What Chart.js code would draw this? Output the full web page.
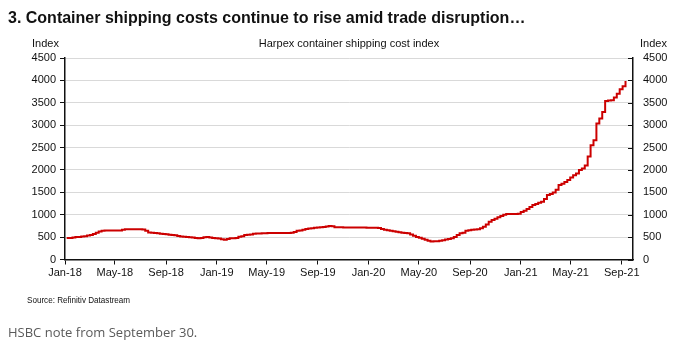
<!DOCTYPE html>
<html>
<head>
<meta charset="utf-8">
<script src="https://cdn.jsdelivr.net/npm/chart.js@4/dist/chart.umd.min.js"></script>
<style>
  html, body { margin: 0; padding: 0; background: #fff; }
  #wrap { position: relative; width: 690px; height: 345px; overflow: hidden; }
  #wrap canvas { position: absolute; left: 0; top: 0; }
  .txt { position: absolute; white-space: nowrap; font-family: "Liberation Sans", Arial, sans-serif; color: #111; }
  #title { left: 8px; top: 9px; font-size: 16px; font-weight: bold; line-height: 18px; }
  .axisName { top: 37px; font-size: 11px; line-height: 13px; }
  #source { left: 27px; top: 293px; font-size: 9px; line-height: 14px; transform: scaleX(0.9); transform-origin: 0 0; }
  #note { left: 8px; top: 324px; font-size: 13px; line-height: 16px; font-family: "Open Sans", sans-serif; color: #5a5a5a; }
</style>
</head>
<body>
<div id="wrap">
  <canvas id="harpexChart" width="690" height="345"></canvas>
  <div class="txt" id="title">3. Container shipping costs continue to rise amid trade disruption…</div>
  <div class="txt axisName" style="left:32px">Index</div>
  <div class="txt axisName" style="left:0;width:690px;text-align:center;padding-left:8px;box-sizing:border-box">Harpex container shipping cost index</div>
  <div class="txt axisName" style="left:640px">Index</div>
  <div class="txt" id="source">Source: Refinitiv Datastream</div>
  <div class="txt" id="note">HSBC note from September 30.</div>
</div>
<script>
// Harpex weekly readings, first one on the Friday below
const firstWeek = '2018-01-05';
const harpex = [
  480, 482, 490, 500, 505, 512, 520, 535, 546, 570,
  600, 625, 642, 645, 645, 645, 648, 650, 650, 665,
  673, 673, 673, 673, 673, 673, 670, 640, 605, 598,
  590, 585, 575, 568, 562, 555, 548, 540, 525, 515,
  508, 500, 495, 490, 478, 473, 478, 497, 505, 490,
  480, 475, 470, 450, 442, 460, 473, 475, 480, 508,
  520, 546, 550, 560, 575, 578, 580, 585, 588, 590,
  590, 590, 592, 592, 592, 593, 593, 595, 615, 642,
  650, 665, 680, 695, 700, 710, 715, 718, 725, 735,
  747, 745, 720, 718, 718, 715, 715, 714, 714, 712,
  712, 712, 712, 710, 710, 710, 708, 702, 680, 665,
  655, 640, 630, 620, 610, 600, 592, 584, 560, 530,
  505, 486, 465, 440, 420, 400, 405, 410, 419, 430,
  445, 460, 473, 500, 545, 584, 600, 642, 655, 665,
  670, 675, 700, 730, 780, 843, 880, 910, 945, 970,
  1000, 1015, 1015, 1015, 1015, 1020, 1060, 1088, 1130, 1170,
  1215, 1240, 1265, 1289, 1350, 1438, 1465, 1498, 1560, 1661,
  1690, 1730, 1773, 1830, 1880, 1922, 1996, 2034, 2100, 2300,
  2553, 2665, 3037, 3149, 3296, 3541, 3550, 3557, 3617, 3700,
  3800, 3869, 3988
];

const xTickLabels = ['Jan-18', 'May-18', 'Sep-18', 'Jan-19', 'May-19', 'Sep-19',
                     'Jan-20', 'May-20', 'Sep-20', 'Jan-21', 'May-21', 'Sep-21'];
const yTickValues = [0, 500, 1000, 1500, 2000, 2500, 3000, 3500, 4000, 4500];
const axisStart = '2018-01-01';
const axisEnd = '2021-09-28';

const MONTHS = ['Jan','Feb','Mar','Apr','May','Jun','Jul','Aug','Sep','Oct','Nov','Dec'];
const DAY = 86400000;
const origin = Date.parse(axisStart);

function dayOf(dateStr) {
    return (Date.parse(dateStr) - origin) / DAY;
}
function labelDay(label) {
    const [mon, yy] = label.split('-');
    return (Date.UTC(2000 + Number(yy), MONTHS.indexOf(mon), 1) - origin) / DAY;
}

const startDay = dayOf(firstWeek);
const points = harpex.map((v, i) => ({ x: startDay + i * 7, y: v }));
const xTickDays = xTickLabels.map(labelDay);

const FONT = { family: '"Liberation Sans", Arial, sans-serif', size: 11 };
const INK = '#111';

// right axis has its tick marks pointing into the plot
const innerTicks = {
    id: 'innerTicks',
    afterDraw(chart) {
        const s = chart.scales.y2;
        const c = chart.ctx;
        c.save();
        c.strokeStyle = INK;
        c.lineWidth = 1;
        s.ticks.forEach(t => {
            const y = Math.round(s.getPixelForValue(t.value)) + 0.5;
            c.beginPath();
            c.moveTo(s.left - 5, y);
            c.lineTo(s.left, y);
            c.stroke();
        });
        c.restore();
    }
};

const plainNumber = v => String(v);

new Chart(document.getElementById('harpexChart'), {
    type: 'line',
    data: {
        datasets: [{
            data: points,
            borderColor: '#cc0000',
            borderWidth: 2,
            pointRadius: 0,
            stepped: true,
            fill: false,
            yAxisID: 'y'
        }]
    },
    options: {
        responsive: false,
        animation: false,
        layout: { padding: { top: 58, left: 0, right: 0, bottom: 0 } },
        plugins: { legend: { display: false }, tooltip: { enabled: false } },
        scales: {
            x: {
                type: 'linear',
                min: 0,
                max: dayOf(axisEnd),
                afterBuildTicks: s => { s.ticks = xTickDays.map(v => ({ value: v })); },
                afterFit: s => { s.height = 85.5; },
                ticks: {
                    autoSkip: false,
                    maxRotation: 0,
                    padding: 2,
                    color: INK,
                    font: FONT,
                    callback: (v) => xTickLabels[xTickDays.indexOf(v)]
                },
                grid: { drawOnChartArea: false, drawTicks: true, tickLength: 5, tickColor: INK },
                border: { color: INK, width: 1.5 }
            },
            y: {
                position: 'left',
                min: 0,
                max: 4500,
                afterBuildTicks: s => { s.ticks = yTickValues.map(v => ({ value: v })); },
                afterFit: s => { s.width = 65; },
                ticks: { color: INK, font: FONT, padding: 4, callback: plainNumber },
                grid: { color: '#d9d9d9', lineWidth: 1, tickLength: 5, tickColor: INK },
                border: { color: INK, width: 1.5 }
            },
            y2: {
                position: 'right',
                min: 0,
                max: 4500,
                afterBuildTicks: s => { s.ticks = yTickValues.map(v => ({ value: v })); },
                afterFit: s => { s.width = 57; },
                ticks: { color: INK, font: FONT, padding: 10, callback: plainNumber },
                grid: { drawOnChartArea: false, drawTicks: false },
                border: { color: INK, width: 1.5 }
            }
        }
    },
    plugins: [innerTicks]
});
</script>
</body>
</html>
